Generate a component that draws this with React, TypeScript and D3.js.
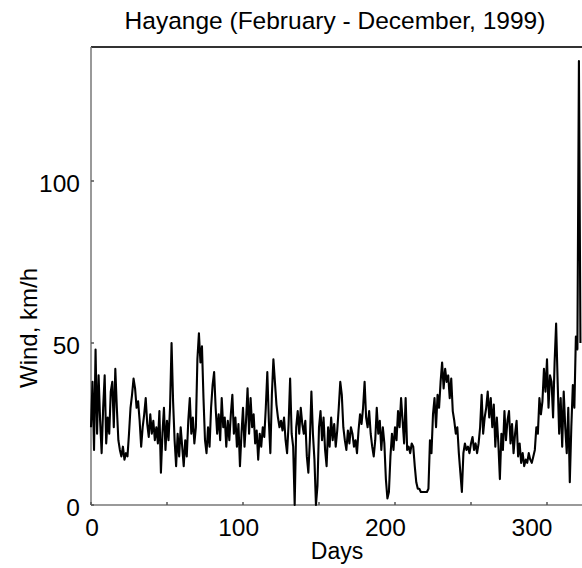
import React from "react";
import * as d3 from "d3";

const title = "Hayange (February - December, 1999)";
const xTicks = [0, 100, 200, 300];
const xMinorTicks = [0, 50, 100, 150, 200, 250, 300];
const yTicks = [0, 50, 100];
const xLabel = "Days";
const yLabel = "Wind, km/h";

// daily wind values (km/h), day 0 .. 322
const wind = [
  24, 38, 17, 48, 22, 40, 26, 16, 30, 40,
  19, 27, 22, 35, 38, 24, 42, 30, 20, 17,
  15, 18, 14, 16, 15, 22, 30, 34, 39, 36,
  30, 32, 26, 18, 24, 28, 33, 25, 21, 28,
  22, 26, 20, 24, 19, 29, 10, 22, 30, 17,
  26, 20, 30, 50, 32, 20, 12, 22, 15, 24,
  18, 12, 20, 15, 26, 33, 22, 27, 19, 24,
  45, 53, 44, 49, 33, 20, 16, 24, 18, 30,
  37, 41, 30, 22, 28, 20, 33, 24, 27, 18,
  26, 20, 28, 34, 22, 27, 18, 25, 12, 22,
  30, 18, 26, 36, 22, 33, 24, 28, 19, 23,
  14, 22, 18, 24, 21, 30, 41, 26, 16, 34,
  45, 38, 31, 27, 24, 26, 23, 27, 20, 16,
  25, 39, 22, 18, 0, 24, 29, 22, 30, 25,
  22, 26, 15, 10, 20, 35, 22, 14, 0, 6,
  24, 29, 20, 27, 17, 12, 24, 18, 27, 20,
  25, 18, 23, 30, 38, 34, 24, 20, 17, 23,
  19, 24, 22, 18, 20, 16, 23, 28, 25, 30,
  38, 27, 24, 29, 22, 18, 15, 20, 30, 22,
  26, 17, 24, 19, 8, 2, 4, 15, 22, 17,
  24, 20, 29, 24, 33, 26, 19, 33, 17, 18,
  16, 19, 18, 12, 7, 5, 5, 4, 4, 4,
  4, 4, 5, 20, 16, 28, 33, 24, 34, 30,
  38, 44, 36, 42, 38, 40, 33, 39, 29, 26,
  22, 24, 16, 10, 4, 16, 19, 17, 18, 16,
  19, 21, 17, 19, 16, 19, 24, 34, 22, 27,
  30, 35, 27, 33, 24, 31, 18, 27, 19, 8,
  22, 17, 29, 20, 26, 29, 19, 25, 16, 22,
  26, 15, 19, 13, 16, 12, 14, 13, 16, 14,
  13, 15, 17, 24, 22, 33, 28, 32, 42, 35,
  45, 30, 40, 38, 27, 44, 56, 38, 22, 33,
  18, 35, 24, 16, 30, 7, 24, 37, 30, 52,
  48, 137, 50,
];

const W = 582;
const H = 568;
const left = 91;
const top = 47;
const bottom = 505;

export default function App() {
  const x = d3.scaleLinear().domain([0, 100]).range([left, left + 152]);
  const xLab = d3.scaleLinear().domain([0, 300]).range([92, 532]);
  const y = d3.scaleLinear().domain([0, 50]).range([bottom, 343]);

  const line = d3
    .line<number>()
    .x((_, i) => x(i))
    .y((d) => y(d));

  const font = "'Liberation Sans', Arial, Helvetica, sans-serif";

  return (
    <svg
      width={W}
      height={H}
      style={{ position: "fixed", left: 0, top: 0, background: "#fff" }}
      fontFamily={font}
    >
      <rect x={0} y={0} width={W} height={H} fill="#fff" />
      <text x={335} y={29} textAnchor="middle" fontSize={24.5} fill="#000">
        {title}
      </text>
      {/* frame */}
      <line x1={left} x2={W} y1={top} y2={top} stroke="#333" strokeWidth={2} />
      <line x1={left} x2={left} y1={top} y2={bottom} stroke="#777" strokeWidth={1.5} />
      <line x1={left} x2={W} y1={bottom} y2={bottom} stroke="#777" strokeWidth={1.5} />
      {/* ticks */}
      {xMinorTicks.map((t) => (
        <line key={"xt" + t} x1={x(t)} x2={x(t)} y1={bottom} y2={bottom - 3} stroke="#555" strokeWidth={1.5} />
      ))}
      {yTicks.map((t) => (
        <line key={"yt" + t} x1={left} x2={left + 3} y1={y(t)} y2={y(t)} stroke="#555" strokeWidth={1.5} />
      ))}
      {/* data */}
      <path d={line(wind) || ""} fill="none" stroke="#000" strokeWidth={2.1} strokeLinejoin="round" />
      {/* labels */}
      {xTicks.map((t) => (
        <text key={"xl" + t} x={xLab(t)} y={536} textAnchor="middle" fontSize={24.5} fill="#000">
          {t}
        </text>
      ))}
      {yTicks.map((t) => (
        <text key={"yl" + t} x={80} y={y(t) + 11} textAnchor="end" fontSize={24.5} fill="#000">
          {t}
        </text>
      ))}
      <text x={337} y={559} textAnchor="middle" fontSize={23} fill="#000">
        {xLabel}
      </text>
      <text
        transform={`translate(37, 328) rotate(-90)`}
        textAnchor="middle"
        fontSize={24}
        fill="#000"
      >
        {yLabel}
      </text>
    </svg>
  );
}
